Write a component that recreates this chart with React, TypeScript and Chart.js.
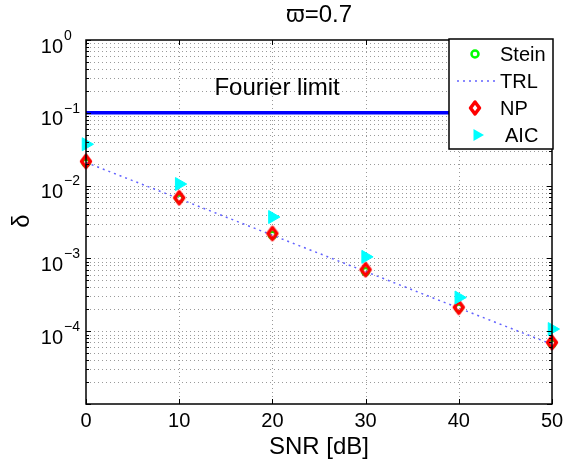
import React, { useEffect, useRef } from 'react';
import { Chart, registerables } from 'chart.js';
Chart.register(...registerables);

const snr = [0, 10, 20, 30, 40, 50];
const stein = [0.0205, 0.0066, 0.00208, 0.00066, 0.000208, 0.000067];
const trl = [0.0208, 0.0066, 0.00208, 0.00066, 0.000208, 0.000066];
const np = [0.0215, 0.0068, 0.0022, 0.0007, 0.000213, 0.00007];
const aic = [0.037, 0.0105, 0.0037, 0.00105, 0.00029, 0.000107];
const fourierX = [0, 50];
const fourierY = [0.1, 0.1];
const xTicks = [0, 10, 20, 30, 40, 50];
const yExps = [0, -1, -2, -3, -4, -5];
const yLabelExps = [0, -1, -2, -3, -4];
const legendLabels = ['Stein', 'TRL', 'NP', 'AIC'];
const titleText = 'ϖ=0.7';
const xLabel = 'SNR [dB]';
const yLabel = 'δ';
const fourierText = 'Fourier limit';

const FONT = '"Liberation Sans", Arial, Helvetica, sans-serif';

function drawDiamond(ctx: CanvasRenderingContext2D, x: number, y: number) {
  ctx.save();
  ctx.beginPath();
  ctx.moveTo(x, y - 6);
  ctx.lineTo(x + 4.5, y);
  ctx.lineTo(x, y + 6);
  ctx.lineTo(x - 4.5, y);
  ctx.closePath();
  ctx.strokeStyle = '#ff0000';
  ctx.lineJoin = 'round';
  ctx.lineWidth = 3.5;
  ctx.stroke();
  ctx.restore();
}

function makeDiamond(): HTMLCanvasElement {
  const c = document.createElement('canvas');
  c.width = 16;
  c.height = 20;
  const ctx = c.getContext('2d')!;
  drawDiamond(ctx, 8, 10);
  return c;
}

function drawTriangle(ctx: CanvasRenderingContext2D, x: number, y: number, r: number) {
  ctx.save();
  ctx.beginPath();
  ctx.moveTo(x + r, y);
  ctx.lineTo(x - r / 2, y - r * 0.866);
  ctx.lineTo(x - r / 2, y + r * 0.866);
  ctx.closePath();
  ctx.fillStyle = '#00ffff';
  ctx.fill();
  ctx.restore();
}

const decor = {
  id: 'decor',
  beforeDatasetsDraw(chart: any) {
    const { ctx, chartArea: a, scales } = chart;
    const xs = scales.x, ys = scales.y;
    ctx.save();
    ctx.strokeStyle = '#9a9a9a';
    ctx.lineWidth = 1;
    ctx.setLineDash([1, 3]);
    for (const t of xTicks) {
      if (t === xTicks[0] || t === xTicks[xTicks.length - 1]) continue;
      const px = Math.round(xs.getPixelForValue(t)) + 0.5;
      ctx.beginPath();
      ctx.moveTo(px, a.top);
      ctx.lineTo(px, a.bottom);
      ctx.stroke();
    }
    for (const e of yExps) {
      if (e === yExps[0]) continue;
      for (let m = 1; m <= 9; m++) {
        const v = m * Math.pow(10, e);
        const py = Math.round(ys.getPixelForValue(v)) + 0.5;
        if (py <= a.top + 1 || py >= a.bottom - 1) continue;
        ctx.beginPath();
        ctx.moveTo(a.left, py);
        ctx.lineTo(a.right, py);
        ctx.stroke();
      }
    }
    ctx.restore();
  },
  afterDatasetsDraw(chart: any) {
    const { ctx, chartArea: a, scales } = chart;
    const xs = scales.x, ys = scales.y;
    ctx.save();
    // box
    ctx.strokeStyle = '#000';
    ctx.lineWidth = 1.5;
    ctx.strokeRect(a.left, a.top, a.right - a.left, a.bottom - a.top);
    // ticks
    ctx.lineWidth = 1;
    for (const t of xTicks) {
      const px = Math.round(xs.getPixelForValue(t)) + 0.5;
      ctx.beginPath();
      ctx.moveTo(px, a.bottom);
      ctx.lineTo(px, a.bottom - 5);
      ctx.moveTo(px, a.top);
      ctx.lineTo(px, a.top + 5);
      ctx.stroke();
    }
    for (const e of yExps) {
      for (let m = 1; m <= 9; m++) {
        const v = m * Math.pow(10, e);
        const py = Math.round(ys.getPixelForValue(v)) + 0.5;
        if (py < a.top - 1 || py > a.bottom + 1) continue;
        const len = m === 1 ? 5 : 3;
        ctx.beginPath();
        ctx.moveTo(a.left, py);
        ctx.lineTo(a.left + len, py);
        ctx.moveTo(a.right, py);
        ctx.lineTo(a.right - len, py);
        ctx.stroke();
      }
    }
    // x tick labels
    ctx.fillStyle = '#000';
    ctx.font = `20px ${FONT}`;
    ctx.textAlign = 'center';
    ctx.textBaseline = 'middle';
    for (const t of xTicks) {
      ctx.fillText(String(t), xs.getPixelForValue(t), a.bottom + 17);
    }
    // y tick labels
    for (const e of yLabelExps) {
      const py = ys.getPixelForValue(Math.pow(10, e));
      ctx.font = `20px ${FONT}`;
      ctx.textAlign = 'right';
      ctx.fillText('10', 63, py + 7);
      ctx.font = `14px ${FONT}`;
      ctx.textAlign = 'left';
      ctx.fillText(e === 0 ? '0' : '\u2212' + String(-e), 64, py - 4);
    }
    // axis labels & title
    ctx.font = `24px ${FONT}`;
    ctx.textAlign = 'center';
    ctx.fillText(xLabel, (a.left + a.right) / 2, a.bottom + 43);
    ctx.fillText(titleText, (a.left + a.right) / 2, 15);
    ctx.save();
    ctx.translate(22, 221);
    ctx.rotate(-Math.PI / 2);
    ctx.fillText(yLabel, 0, 0);
    ctx.restore();
    // Fourier limit text
    ctx.fillText(fourierText, xs.getPixelForValue(20.5), ys.getPixelForValue(0.1) - 24);
    // legend
    const lx = 449, ly = 39, lw = 104, lh = 110;
    ctx.fillStyle = '#fff';
    ctx.fillRect(lx, ly, lw, lh);
    ctx.strokeStyle = '#000';
    ctx.lineWidth = 1.5;
    ctx.strokeRect(lx, ly, lw, lh);
    const rows = [54, 81, 108, 135];
    // Stein
    ctx.beginPath();
    ctx.arc(475, rows[0], 3.5, 0, Math.PI * 2);
    ctx.strokeStyle = '#00ff00';
    ctx.lineWidth = 2.5;
    ctx.stroke();
    // TRL
    ctx.save();
    ctx.strokeStyle = 'rgba(70,70,255,0.85)';
    ctx.lineWidth = 1.5;
    ctx.setLineDash([2, 4]);
    ctx.beginPath();
    ctx.moveTo(457, rows[1]);
    ctx.lineTo(495, rows[1]);
    ctx.stroke();
    ctx.restore();
    drawDiamond(ctx, 475, rows[2]);
    drawTriangle(ctx, 477, rows[3], 7);
    ctx.fillStyle = '#000';
    ctx.font = `20px ${FONT}`;
    ctx.textAlign = 'left';
    ctx.textBaseline = 'middle';
    ctx.fillText(legendLabels[0], 500, rows[0] + 1);
    ctx.fillText(legendLabels[1], 500, rows[1] + 1);
    ctx.fillText(legendLabels[2], 500, rows[2] + 1);
    ctx.fillText(legendLabels[3], 505, rows[3] + 1);
    ctx.restore();
  },
};

export default function App() {
  const ref = useRef<HTMLCanvasElement | null>(null);
  useEffect(() => {
    document.body.style.margin = '0';
    const diamond = makeDiamond();
    const toPts = (ys: number[], xsArr: number[] = snr) => ys.map((y, i) => ({ x: xsArr[i], y }));
    const chart = new Chart(ref.current!, {
      type: 'line',
      data: {
        datasets: [
          {
            label: 'AIC', data: toPts(aic), showLine: false, pointStyle: 'triangle', pointRotation: 90,
            pointRadius: 7.5, pointBackgroundColor: '#00ffff', pointBorderColor: '#00ffff', pointBorderWidth: 1,
            order: 0, clip: false,
          } as any,
          {
            label: 'NP', data: toPts(np), showLine: false, pointStyle: diamond as any,
            order: 1, clip: false,
          } as any,
          {
            label: 'TRL', data: toPts(trl), borderColor: 'rgba(70,70,255,0.85)', borderWidth: 1.5,
            borderDash: [2, 4], pointRadius: 0, order: 2, fill: false, tension: 0,
          } as any,
          {
            label: 'Stein', data: toPts(stein), showLine: false, pointStyle: 'circle', pointRadius: 3.5,
            pointBorderColor: '#00ff00', pointBackgroundColor: 'rgba(0,0,0,0)', pointBorderWidth: 2.5,
            order: 3, clip: false,
          } as any,
          {
            label: 'Fourier', data: toPts(fourierY, fourierX), borderColor: '#0000ff', borderWidth: 3.5,
            pointRadius: 0, order: 4, fill: false,
          } as any,
        ],
      },
      options: {
        animation: false,
        responsive: false,
        events: [],
        layout: { padding: { top: 40, right: 13, left: 0, bottom: 0 } },
        plugins: { legend: { display: false }, tooltip: { enabled: false }, title: { display: false } },
        scales: {
          x: {
            type: 'linear', min: 0, max: 50,
            ticks: { display: false }, grid: { display: false }, border: { display: false },
            afterFit: (s: any) => { s.height = 60; },
          },
          y: {
            type: 'logarithmic', min: 1e-5, max: 1,
            ticks: { display: false }, grid: { display: false }, border: { display: false },
            afterFit: (s: any) => { s.width = 86; },
          },
        },
      } as any,
      plugins: [decor],
    });
    return () => chart.destroy();
  }, []);
  return <canvas ref={ref} width={565} height={464} style={{ display: 'block' }} />;
}
